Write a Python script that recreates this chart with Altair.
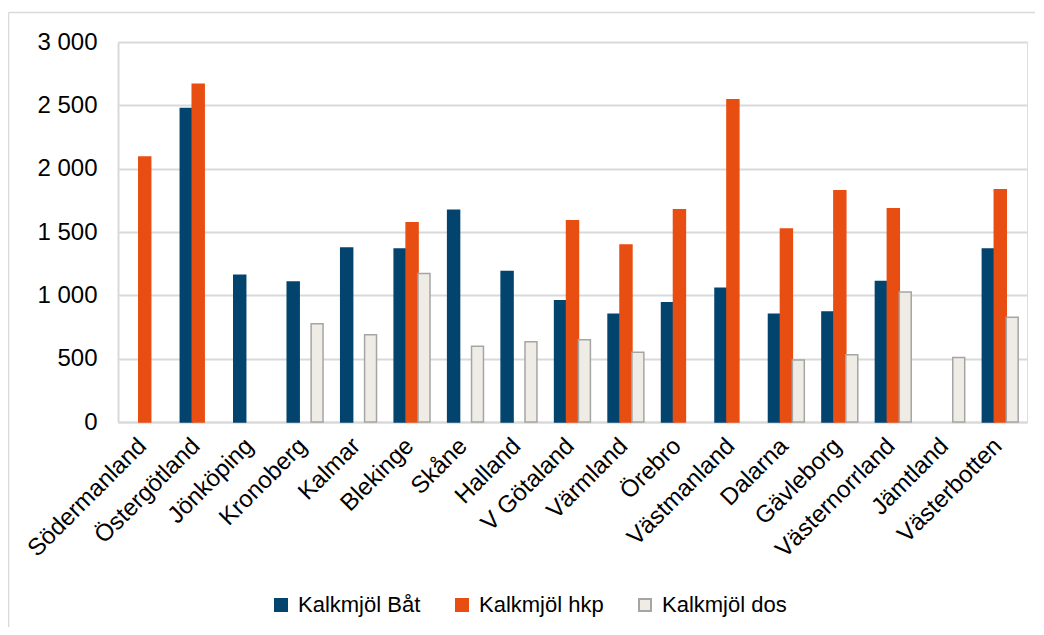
import altair as alt
import pandas as pd

categories = ["Södermanland", "Östergötland", "Jönköping", "Kronoberg", "Kalmar",
              "Blekinge", "Skåne", "Halland", "V Götaland", "Värmland", "Örebro",
              "Västmanland", "Dalarna", "Gävleborg", "Västernorrland", "Jämtland",
              "Västerbotten"]
series = ["Kalkmjöl Båt", "Kalkmjöl hkp", "Kalkmjöl dos"]
bat = [None, 2475, 1158, 1105, 1373, 1365, 1672, 1188, 958, 850, 942, 1055, 850, 868, 1110, None, 1365]
hkp = [2092, 2667, None, None, None, 1573, None, None, 1589, 1397, 1676, 2545, 1523, 1826, 1684, None, 1834]
dos = [None, None, None, 776, 689, 1173, 599, 634, 650, 550, None, None, 489, 531, 1026, 510, 826]
colors = ["#03446F", "#E84E12", "#EFECE6"]
strokes = ["#03446F", "#E84E12", "#A5A5A5"]
y_ticks = [0, 500, 1000, 1500, 2000, 2500, 3000]

rows = []
for s, vals in zip(series, [bat, hkp, dos]):
    for c, v in zip(categories, vals):
        if v is not None:
            rows.append({"Län": c, "Serie": s, "Värde": v})
df = pd.DataFrame(rows)

FONT = "Liberation Sans"
FS = 24
legend_spec = alt.Legend(
    title=None, orient="none", legendX=152, legendY=552, direction="horizontal",
    symbolType="square", symbolSize=144, symbolStrokeWidth=2, labelFontSize=22,
    labelFont=FONT, labelColor="black", labelOffset=6, columnPadding=30,
)

bars = alt.Chart(df).mark_bar(strokeWidth=1.5).encode(
    x=alt.X("Län:N", sort=categories, title=None,
            scale=alt.Scale(paddingInner=0.33, paddingOuter=0.165),
            axis=alt.Axis(labelAngle=-45, labelAlign="right", labelBaseline="middle",
                          labelFontSize=FS, labelFont=FONT, labelColor="black",
                          labelPadding=20, labelOffset=-2, ticks=False,
                          domainColor="#D9D9D9", domainWidth=2, labelLimit=400)),
    xOffset=alt.XOffset("Serie:N", sort=series, scale=alt.Scale(domain=series, paddingInner=0, paddingOuter=0)),
    y=alt.Y("Värde:Q", title=None,
            scale=alt.Scale(domain=[0, 3000], nice=False),
            axis=alt.Axis(values=y_ticks, labelFontSize=FS, labelFont=FONT, labelColor="black",
                          labelExpr="replace(format(datum.value, ','), ',', ' ')",
                          ticks=False, labelPadding=21, domainColor="#D9D9D9", domainWidth=2,
                          gridColor="#D9D9D9", gridWidth=2)),
    color=alt.Color("Serie:N", sort=series, scale=alt.Scale(domain=series, range=colors), legend=legend_spec),
    stroke=alt.Stroke("Serie:N", sort=series, scale=alt.Scale(domain=series, range=strokes), legend=legend_spec),
)

frame_src = alt.Chart(pd.DataFrame({"k": [0]}))
frame_left = frame_src.mark_rule(color="#D9D9D9", strokeWidth=1.5).encode(
    x=alt.value(-109.5), y=alt.value(-29.5), y2=alt.value(640))
frame_top = frame_src.mark_rule(color="#D9D9D9", strokeWidth=1.5).encode(
    x=alt.value(-109.5), x2=alt.value(1000), y=alt.value(-29.5))

chart = alt.layer(bars, frame_left, frame_top).properties(
    width=909, height=380,
    autosize=alt.AutoSizeParams(type="none"),
    padding={"left": 110, "top": 34, "right": 8, "bottom": 205},
).configure_view(stroke=None).configure(background="white")

chart.save("out.html", embed_options={"renderer": "svg", "actions": False})
